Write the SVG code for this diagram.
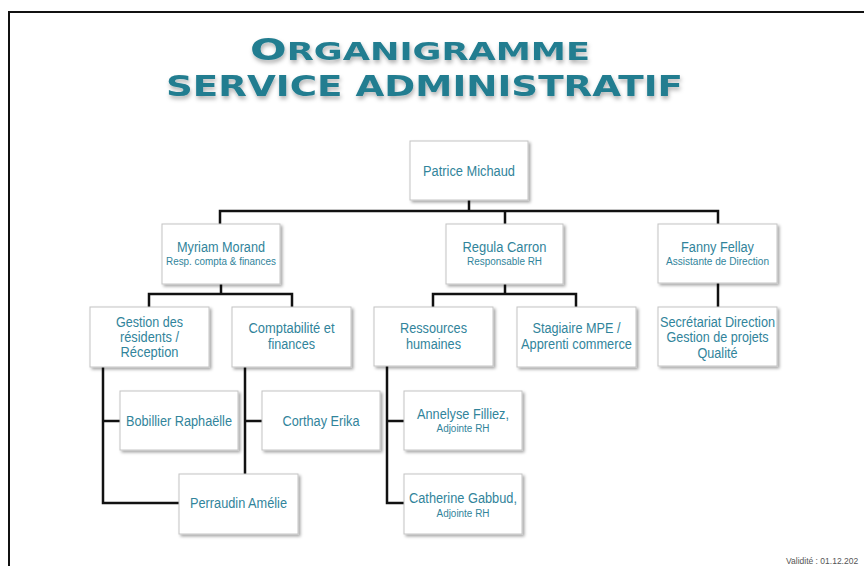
<svg xmlns="http://www.w3.org/2000/svg" width="864" height="566" viewBox="0 0 864 566">
<defs>
<filter id="sh" x="-10%" y="-10%" width="130%" height="140%">
<feDropShadow dx="2" dy="2" stdDeviation="1.5" flood-color="#000" flood-opacity="0.35"/>
</filter>
<filter id="tsh" x="-5%" y="-20%" width="110%" height="160%">
<feDropShadow dx="1" dy="3" stdDeviation="2" flood-color="#000" flood-opacity="0.3"/>
</filter>
</defs>
<style>
.box{fill:#fff;stroke:#c4c4c4;stroke-width:1;filter:url(#sh)}
.t{font-family:"Liberation Sans",Arial,sans-serif;font-size:14px;fill:#31849B;text-anchor:middle}
.s{font-family:"Liberation Sans",Arial,sans-serif;font-size:10px;fill:#31849B;text-anchor:middle}
.c{fill:none;stroke:#111;stroke-width:2.5;stroke-linecap:square}
.title{font-family:"DejaVu Sans",sans-serif;font-weight:bold;fill:#237D90;filter:url(#tsh)}
</style>
<rect width="864" height="566" fill="#fff"/>
<path d="M9 566 V12 H864" fill="none" stroke="#111" stroke-width="2"/>
<g id="title">
<text class="title" x="250" y="60" textLength="340" lengthAdjust="spacingAndGlyphs"><tspan font-size="30">O</tspan><tspan font-size="24.5">RGANIGRAMME</tspan></text>
<text class="title" x="166" y="96" font-size="29" textLength="517" lengthAdjust="spacingAndGlyphs">SERVICE ADMINISTRATIF</text>
</g>
<g id="connectors">
<path class="c" d="M469 200 V211 M220 211 H718 M220 211 V224 M505 211 V224 M718 211 V224"/>
<path class="c" d="M221 284 V294 M149 294 H292 M149 294 V307 M292 294 V307"/>
<path class="c" d="M505 284 V294 M433 294 H576 M433 294 V307 M576 294 V307"/>
<path class="c" d="M718 283 V307"/>
<path class="c" d="M103 367 V503 H179 M103 421 H120"/>
<path class="c" d="M245 367 V474 M245 421 H262"/>
<path class="c" d="M387 366 V503 H404 M387 421 H404"/>
</g>
<g id="patrice">
<rect class="box" x="410" y="141" width="118" height="59"/>
<text class="t" x="469" y="176" textLength="92" lengthAdjust="spacingAndGlyphs">Patrice Michaud</text>
</g>
<g id="myriam">
<rect class="box" x="162" y="224" width="118" height="60"/>
<text class="t" x="221" y="252" textLength="88" lengthAdjust="spacingAndGlyphs">Myriam Morand</text>
<text class="s" x="221" y="265" textLength="110" lengthAdjust="spacingAndGlyphs">Resp. compta &amp; finances</text>
</g>
<g id="regula">
<rect class="box" x="446" y="224" width="117" height="60"/>
<text class="t" x="504.5" y="252" textLength="84" lengthAdjust="spacingAndGlyphs">Regula Carron</text>
<text class="s" x="504.5" y="265" textLength="75" lengthAdjust="spacingAndGlyphs">Responsable RH</text>
</g>
<g id="fanny">
<rect class="box" x="658" y="224" width="119" height="59"/>
<text class="t" x="717.5" y="252" textLength="73" lengthAdjust="spacingAndGlyphs">Fanny Fellay</text>
<text class="s" x="717.5" y="265" textLength="103" lengthAdjust="spacingAndGlyphs">Assistante de Direction</text>
</g>
<g id="gestion">
<rect class="box" x="90" y="307" width="119" height="60"/>
<text class="t" x="149.5" y="327" textLength="67" lengthAdjust="spacingAndGlyphs">Gestion des</text>
<text class="t" x="149.5" y="342" textLength="59" lengthAdjust="spacingAndGlyphs">résidents /</text>
<text class="t" x="149.5" y="357" textLength="58" lengthAdjust="spacingAndGlyphs">Réception</text>
</g>
<g id="comptabilite">
<rect class="box" x="232" y="307" width="119" height="60"/>
<text class="t" x="291.5" y="333" textLength="86" lengthAdjust="spacingAndGlyphs">Comptabilité et</text>
<text class="t" x="291.5" y="349" textLength="47" lengthAdjust="spacingAndGlyphs">finances</text>
</g>
<g id="ressources">
<rect class="box" x="374" y="307" width="119" height="59"/>
<text class="t" x="433.5" y="333" textLength="67" lengthAdjust="spacingAndGlyphs">Ressources</text>
<text class="t" x="433.5" y="349" textLength="55" lengthAdjust="spacingAndGlyphs">humaines</text>
</g>
<g id="stagiaire">
<rect class="box" x="517" y="307" width="119" height="60"/>
<text class="t" x="576.5" y="333" textLength="88" lengthAdjust="spacingAndGlyphs">Stagiaire MPE /</text>
<text class="t" x="576.5" y="349" textLength="111" lengthAdjust="spacingAndGlyphs">Apprenti commerce</text>
</g>
<g id="secretariat">
<rect class="box" x="658" y="307" width="119" height="59"/>
<text class="t" x="717.5" y="327" textLength="115" lengthAdjust="spacingAndGlyphs">Secrétariat Direction</text>
<text class="t" x="717.5" y="342" textLength="102" lengthAdjust="spacingAndGlyphs">Gestion de projets</text>
<text class="t" x="717.5" y="358" textLength="40" lengthAdjust="spacingAndGlyphs">Qualité</text>
</g>
<g id="bobillier">
<rect class="box" x="120" y="391" width="118" height="59"/>
<text class="t" x="179" y="426" textLength="106" lengthAdjust="spacingAndGlyphs">Bobillier Raphaëlle</text>
</g>
<g id="corthay">
<rect class="box" x="262" y="391" width="118" height="59"/>
<text class="t" x="321" y="426" textLength="77" lengthAdjust="spacingAndGlyphs">Corthay Erika</text>
</g>
<g id="perraudin">
<rect class="box" x="179" y="474" width="119" height="60"/>
<text class="t" x="238.5" y="508" textLength="97" lengthAdjust="spacingAndGlyphs">Perraudin Amélie</text>
</g>
<g id="annelyse">
<rect class="box" x="404" y="391" width="118" height="59"/>
<text class="t" x="463" y="419" textLength="92" lengthAdjust="spacingAndGlyphs">Annelyse Filliez,</text>
<text class="s" x="463" y="432" textLength="53" lengthAdjust="spacingAndGlyphs">Adjointe RH</text>
</g>
<g id="catherine">
<rect class="box" x="404" y="474" width="118" height="60"/>
<text class="t" x="463" y="503" textLength="108" lengthAdjust="spacingAndGlyphs">Catherine Gabbud,</text>
<text class="s" x="463" y="517" textLength="53" lengthAdjust="spacingAndGlyphs">Adjointe RH</text>
</g>
<text x="786" y="564" font-family="'Liberation Sans',Arial,sans-serif" font-size="8.5" fill="#555">Validité : 01.12.202</text>
</svg>
